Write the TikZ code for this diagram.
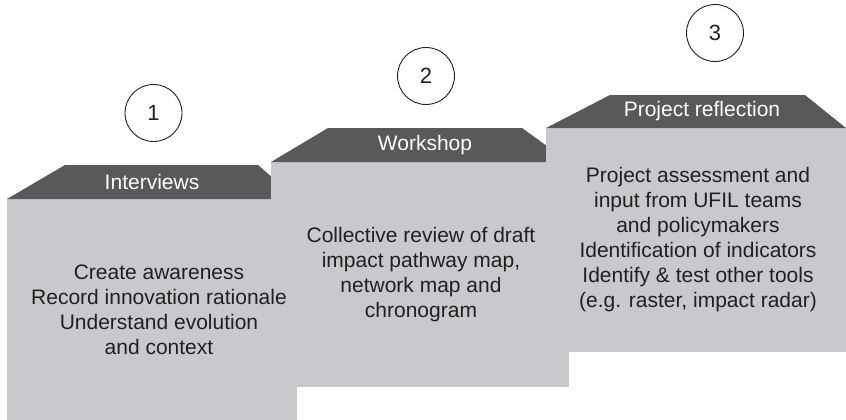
\documentclass[tikz,border=0pt]{standalone}
\usepackage{fontspec}
\setmainfont{Liberation Sans}
\definecolor{headgray}{HTML}{58595B}
\definecolor{boxgray}{HTML}{C8C9CC}
\definecolor{textdark}{HTML}{231F20}
\begin{document}
\begin{tikzpicture}[x=1pt,y=-1pt,
  bodytext/.style={text=textdark,align=center,font=\fontsize{21}{25}\selectfont,inner sep=0pt},
  headtext/.style={text=white,font=\fontsize{21}{25}\selectfont,inner sep=0pt},
  numcircle/.style={circle,draw=textdark,line width=0.9pt,minimum size=57pt,inner sep=0pt,text=textdark,font=\fontsize{22}{26}\selectfont}]
\useasboundingbox (0,0) rectangle (846,420);
% Step 1 shapes
\fill[boxgray] (7,199) rectangle (297,420);
\fill[headgray] (7,199) -- (65,165) -- (258,165) -- (297,199) -- cycle;
% Step 2 shapes
\fill[boxgray] (271,162) rectangle (569,387);
\fill[headgray] (271,162) -- (328,128) -- (522,128) -- (569,162) -- cycle;
% Step 3 shapes
\fill[boxgray] (546,128) rectangle (846,352);
\fill[headgray] (546,128) -- (610,95) -- (805,95) -- (846,128) -- cycle;
% Texts
\node[headtext] (h1) at (152,182) {Interviews};
\node[bodytext] (b1) at (159,310) {Create awareness\\Record innovation rationale\\Understand evolution\\and context};
\node[numcircle] (c1) at (153.5,113) {1};
\node[headtext] (h2) at (425,145) {Workshop};
\node[bodytext] (b2) at (421,275) {Collective review of draft\\impact pathway map,\\network map and\\chronogram};
\node[numcircle] (c2) at (426,76) {2};
\node[headtext] (h3) at (702,111.5) {Project reflection};
\node[bodytext] (b3) at (698,240) {Project assessment and\\input from UFIL teams\\and policymakers\\Identification of indicators\\Identify \& test other tools\\(e.g. raster, impact radar)};
\node[numcircle] (c3) at (715,33) {3};
\end{tikzpicture}
\end{document}
